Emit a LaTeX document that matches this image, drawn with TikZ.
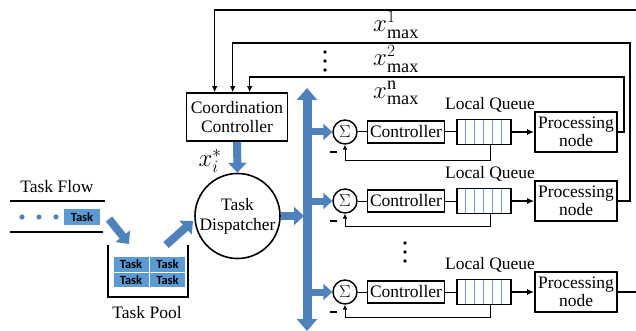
\documentclass[tikz,border=0pt]{standalone}
\usepackage{fontspec}
\setmainfont{Liberation Serif}
\newfontfamily\bodyserif{Liberation Serif}
\newfontfamily\taskfont{Carlito}
\usetikzlibrary{arrows.meta,calc}
\definecolor{busblue}{RGB}{79,129,189}
\definecolor{taskblue}{RGB}{91,155,213}
\definecolor{cellblue}{RGB}{110,160,215}

\begin{document}
\begin{tikzpicture}[x=1pt,y=-1pt,
  lbl/.style={font=\bodyserif\fontsize{17.5}{18}\selectfont, inner sep=0pt},
  mlbl/.style={font=\fontsize{26}{28}\selectfont, inner sep=0pt},
  blk/.style={draw, line width=1.6pt, inner sep=0pt, align=center,
              font=\bodyserif\fontsize{17.5}{19}\selectfont},
  ctrl/.style={blk, minimum width=77pt, minimum height=22pt},
  queue/.style={blk, minimum width=54pt, minimum height=25pt},
  proc/.style={blk, minimum width=82pt, minimum height=40pt,
               font=\bodyserif\fontsize{17.5}{18}\selectfont},
  sumnode/.style={circle, draw, line width=1.4pt, minimum size=24pt,
                  inner sep=0pt, font=\fontsize{17}{17}\selectfont},
  taskbox/.style={fill=taskblue, minimum width=36pt, minimum height=16pt,
                  inner sep=0pt, font=\taskfont\bfseries\fontsize{12.5}{13}\selectfont},
  pooltask/.style={taskbox, draw=white, line width=1pt, minimum height=15.5pt},
  wire/.style={line width=1pt},
  fbk/.style={line width=1pt, -{Latex[length=5pt,width=5pt]}},
  tofeed/.style={line width=1.1pt, -{Latex[length=6pt,width=5.5pt]}},
  qout/.style={line width=1.8pt, -{Latex[length=7pt,width=6pt]}},
  fat/.style={line width=8pt, busblue, -{Triangle[width=18pt,length=10pt]}},
  branch/.style={line width=7pt, busblue, -{Triangle[width=16pt,length=9pt]}},
  minus/.style={line width=2.2pt},
]
\clip (0,0) rectangle (636,331);

% ---------- task flow ----------
\node[lbl] (tflow) at (57,187) {Task Flow};
\draw[line width=1.3pt] (10,201) -- (105,201);
\draw[line width=1.3pt] (10,232) -- (103,232);
\fill[busblue] (22,217) circle (2.6pt) (39,217) circle (2.6pt) (56,217) circle (2.6pt);
\node[taskbox] (t0) at (82,217) {Task};

% ---------- task pool ----------
\draw[line width=2pt] (108,245) -- (108,297) -- (188,297) -- (188,245);
\node[pooltask] (pa) at (131,264.5) {Task};
\node[pooltask] (pb) at (167.5,264.5) {Task};
\node[pooltask] (pc) at (131,280) {Task};
\node[pooltask] (pd) at (167.5,280) {Task};
\node[lbl] (tpool) at (147,313) {Task Pool};

% ---------- coordination and dispatch ----------
\node[blk, minimum width=101pt, minimum height=48pt] (cc) at (237,117)
  {Coordination\\Controller};
\node[circle, draw, line width=1.6pt, minimum size=85pt, inner sep=0pt,
      align=center, font=\bodyserif\fontsize{17.5}{20}\selectfont] (td) at (237.5,216)
  {Task\\Dispatcher};
\node[mlbl] (xs) at (210,161) {$x_i^{*}$};

\coordinate (fin1) at (109,219);
\coordinate (fin2) at (129,244);
\coordinate (pout1) at (166,245);
\coordinate (pout2) at (193,221);
\draw[fat] (fin1) -- (fin2);
\draw[fat] (pout1) -- (pout2);
\draw[fat] (cc.south) -- (td.north);

% ---------- distribution bus ----------
\coordinate (bt) at (307,88);
\coordinate (bb) at (307,331);
\coordinate (bj) at (304,216);
\draw[line width=9pt, busblue,
      {Triangle[width=20pt,length=12pt]}-{Triangle[width=20pt,length=12pt]}] (bt) -- (bb);
\draw[fat] (td.east) -- (bj);

% ---------- processing rows ----------
\foreach \r/\y/\fb in {1/132/28, 2/201/25, 3/292/25} {
  \node[sumnode] (s\r) at (345,\y) {$\Sigma$};
  \node[ctrl] (c\r) at (406,\y) {Controller};
  \node[queue] (q\r) at (484,\y) {};
  \node[proc] (p\r) at (576,\y) {Processing\\node};
  \node[lbl] (ql\r) at (490,\y-27) {Local Queue};
  \foreach \i in {1,...,5}
    \draw[cellblue, line width=0.7pt]
      ($(q\r.north west)+(9*\i,1)$) -- ($(q\r.south west)+(9*\i,-1)$);
  \coordinate (b\r) at (307,\y);
  \draw[branch] (b\r) -- (s\r.west);
  \draw[wire] (s\r.east) -- (c\r.west);
  \draw[wire] (c\r.east) -- (q\r.west);
  \draw[qout] (q\r.east) -- (p\r.west);
  \draw[fbk] ($(q\r.south)+(6,0)$) -- ++(0,\fb-12.5) -| (s\r.south);
  \draw[minus] (329.5,\y+20) -- (336.5,\y+20);
}

% ---------- feedback to the coordination controller ----------
\draw[tofeed] (p1.east) -| (624,77) -| ($(cc.north west)+(64,0)$);
\draw[tofeed] (p2.east) -| (630,43) -| ($(cc.north west)+(47,0)$);
\draw[tofeed] (p3.east) -| (646,10) -| ($(cc.north west)+(29,0)$);

\node[mlbl] (x1) at (396,25) {$x^{1}_{\max}$};
\node[mlbl] (x2) at (396,59) {$x^{2}_{\max}$};
\node[mlbl] (xn) at (396,93) {$x^{\mathrm{n}}_{\max}$};

% ---------- ellipses ----------
\foreach \yy in {52,61,70} \fill (325,\yy) circle (1.9pt);
\foreach \yy in {243,252,261} \fill (405,\yy) circle (1.9pt);
\end{tikzpicture}
\end{document}
